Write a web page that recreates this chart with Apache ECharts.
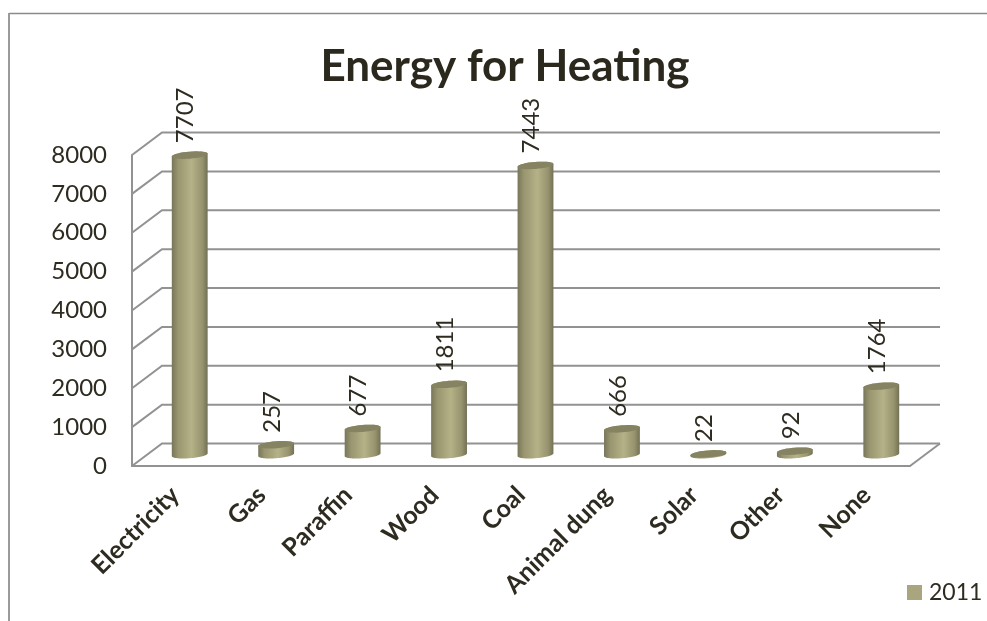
<!DOCTYPE html>
<html>
<head>
<meta charset="utf-8">
<style>
  html, body { margin: 0; padding: 0; background: #fff; }
  #chart { width: 987px; height: 621px; }
</style>
<script src="https://cdn.jsdelivr.net/npm/echarts@6/dist/echarts.min.js"></script>
</head>
<body>
<div id="chart"></div>
<script>
const categories = ['Electricity', 'Gas', 'Paraffin', 'Wood', 'Coal', 'Animal dung', 'Solar', 'Other', 'None'];
const heatingValues = [7707, 257, 677, 1811, 7443, 666, 22, 92, 1764];
const wallTicks = [0, 1000, 2000, 3000, 4000, 5000, 6000, 7000, 8000];
const seriesName = '2011';

const FONT = 'Lato, "Open Sans", sans-serif';
const TEXT = '#2e2b20';
const LINE = '#929292';

// Oblique projection of the chart box: the back wall sits up and to the right.
const DEPTH_X = 30;
const DEPTH_Y = -22.5;

// Points along a tilted ellipse, from angle t0 to t1.
function arc(cx, cy, a, b, tilt, t0, t1) {
  const pts = [];
  const steps = 36;
  for (let i = 0; i <= steps; i++) {
    const t = t0 + (t1 - t0) * i / steps;
    const ex = a * Math.cos(t);
    const ey = b * Math.sin(t);
    pts.push([
      cx + ex * Math.cos(tilt) - ey * Math.sin(tilt),
      cy + ex * Math.sin(tilt) + ey * Math.cos(tilt)
    ]);
  }
  return pts;
}

// Floor and back-wall lines, one bracket per value tick.
function renderWall(params, api) {
  const sys = params.coordSys;
  const v = api.value(1);
  const y = api.coord([0, v])[1];
  const style = { stroke: LINE, lineWidth: 2, fill: null };
  const children = [{
    type: 'polyline',
    shape: { points: [[sys.x, y], [sys.x + DEPTH_X, y + DEPTH_Y], [sys.x + sys.width + DEPTH_X, y + DEPTH_Y]] },
    style
  }];
  if (v === 0) {
    children.push({
      type: 'line',
      shape: {
        x1: sys.x + sys.width, y1: y,
        x2: sys.x + sys.width + DEPTH_X, y2: y + DEPTH_Y
      },
      style
    });
  }
  return { type: 'group', children };
}

// One cylinder standing in the middle of the floor depth.
function renderCylinder(params, api) {
  const base = api.coord([api.value(0), 0]);
  const top = api.coord([api.value(0), api.value(1)]);
  const band = api.size([1, 0])[0];
  const a = band * 0.208;
  const b = 3.5;
  const tilt = -0.08;
  const cx = base[0] + DEPTH_X / 2 - 0.5;
  const baseY = base[1] + DEPTH_Y / 2;
  const topY = top[1] + DEPTH_Y / 2;

  const body = arc(cx, baseY, a, b, tilt, 0, Math.PI)
    .concat(arc(cx, topY, a, b, tilt, Math.PI, 2 * Math.PI));
  const cap = arc(cx, topY, a, b, tilt, 0, 2 * Math.PI);

  return {
    type: 'group',
    children: [
      {
        type: 'polygon',
        shape: { points: body },
        style: {
          fill: {
            type: 'linear', x: 0, y: 0, x2: 1, y2: 0,
            colorStops: [
              { offset: 0, color: '#78765a' },
              { offset: 0.18, color: '#999670' },
              { offset: 0.55, color: '#b5b288' },
              { offset: 0.85, color: '#96936e' },
              { offset: 1, color: '#737155' }
            ]
          }
        }
      },
      { type: 'polygon', shape: { points: cap }, style: { fill: '#858362' } },
      {
        type: 'text',
        x: cx - 4,
        y: topY - 12,
        rotation: Math.PI / 2,
        style: {
          text: String(api.value(1)),
          fontFamily: FONT,
          fontSize: 24,
          fill: TEXT,
          align: 'left',
          verticalAlign: 'middle'
        }
      }
    ]
  };
}

const chart = echarts.init(document.getElementById('chart'), null, { renderer: 'canvas' });
chart.setOption({
  animation: false,
  backgroundColor: '#ffffff',
  title: {
    text: 'Energy for Heating',
    left: 500,
    top: 40,
    textAlign: 'center',
    textStyle: { fontFamily: FONT, fontSize: 44, fontWeight: 'bold', color: '#2b281d' }
  },
  legend: {
    data: [seriesName],
    left: 907,
    top: 581,
    itemWidth: 15,
    itemHeight: 15,
    itemGap: 0,
    padding: 0,
    icon: 'rect',
    textStyle: { fontFamily: FONT, fontSize: 23, color: TEXT, padding: [0, 0, 0, 2] }
  },
  grid: { left: 132, top: 155, width: 778, height: 311, containLabel: false },
  xAxis: {
    type: 'category',
    data: categories,
    axisLine: { lineStyle: { color: LINE, width: 2 } },
    axisTick: { length: 8, lineStyle: { color: LINE, width: 2 } },
    axisLabel: {
      rotate: 45,
      interval: 0,
      margin: 25,
      fontFamily: FONT,
      fontSize: 25,
      fontWeight: 'bold',
      color: TEXT
    }
  },
  yAxis: {
    type: 'value',
    min: 0,
    max: 8000,
    interval: 1000,
    axisLine: { show: true, lineStyle: { color: LINE, width: 2 } },
    axisTick: { show: false },
    splitLine: { show: false },
    axisLabel: {
      margin: 25,
      fontFamily: FONT,
      fontSize: 24,
      color: TEXT,
      formatter: value => String(value)
    }
  },
  series: [
    {
      name: 'wall',
      type: 'custom',
      renderItem: renderWall,
      silent: true,
      z: 1,
      encode: { x: 0, y: 1 },
      data: wallTicks.map(v => [0, v])
    },
    {
      name: seriesName,
      type: 'custom',
      renderItem: renderCylinder,
      z: 3,
      itemStyle: { color: '#a9a67f' },
      encode: { x: 0, y: 1 },
      data: heatingValues.map((v, i) => [i, v])
    }
  ],
  graphic: [
    { type: 'line', shape: { x1: 9, y1: 13.5, x2: 987, y2: 13.5 }, style: { stroke: '#8a8a8a', lineWidth: 1.5 } },
    { type: 'line', shape: { x1: 9, y1: 13, x2: 9, y2: 621 }, style: { stroke: '#9a9a9a', lineWidth: 2 } }
  ]
});
</script>
</body>
</html>
